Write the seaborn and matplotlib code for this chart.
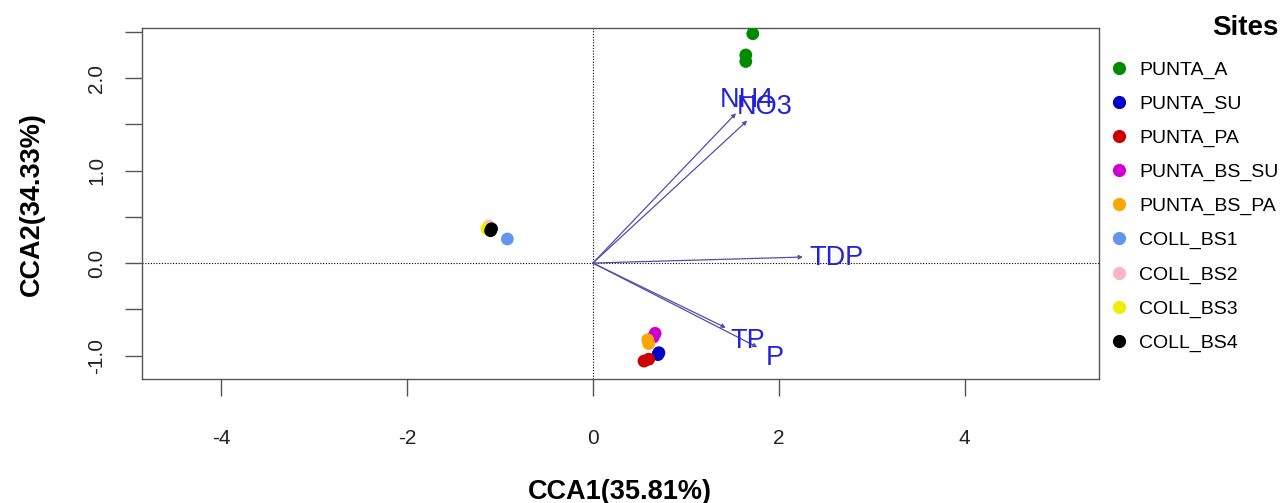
import matplotlib
matplotlib.use("Agg")
import matplotlib.pyplot as plt
from matplotlib.lines import Line2D
import seaborn as sns
import pandas as pd

# site scores (CCA1, CCA2), several replicates per site
site = ["PUNTA_A", "PUNTA_A", "PUNTA_A",
        "PUNTA_SU", "PUNTA_SU",
        "PUNTA_PA", "PUNTA_PA",
        "PUNTA_BS_SU", "PUNTA_BS_SU",
        "PUNTA_BS_PA", "PUNTA_BS_PA",
        "COLL_BS1",
        "COLL_BS2",
        "COLL_BS3",
        "COLL_BS4", "COLL_BS4"]
cca1 = [1.72, 1.645, 1.645,
        0.71, 0.70,
        0.55, 0.60,
        0.67, 0.65,
        0.59, 0.60,
        -0.92,
        -1.12,
        -1.14,
        -1.09, -1.10]
cca2 = [2.48, 2.25, 2.18,
        -0.97, -0.99,
        -1.06, -1.04,
        -0.76, -0.80,
        -0.83, -0.87,
        0.26,
        0.40,
        0.37,
        0.37, 0.35]

site_levels = ["PUNTA_A", "PUNTA_SU", "PUNTA_PA", "PUNTA_BS_SU", "PUNTA_BS_PA",
               "COLL_BS1", "COLL_BS2", "COLL_BS3", "COLL_BS4"]
site_colors = ["#008B00", "#0000C8", "#CD0000", "#CD00CD", "#FFA500",
               "#6495ED", "#FFB6C1", "#EEEE00", "#000000"]

# environmental biplot arrows
env_vars = ["NH4", "NO3", "TDP", "TP", "P"]
env_x = [1.54, 1.66, 2.26, 1.43, 1.77]
env_y = [1.62, 1.54, 0.065, -0.70, -0.91]

# label nudges (layout only)
lab_dx = [0.12, 0.19, 0.36, 0.24, 0.19]
lab_dy = [0.14, 0.15, -0.015, -0.14, -0.12]

df = pd.DataFrame({"site": site, "CCA1": cca1, "CCA2": cca2})

plt.rcParams["font.family"] = ["Liberation Sans", "DejaVu Sans"]
plt.rcParams["axes.unicode_minus"] = False

fig = plt.figure(figsize=(12.84, 5.03), dpi=100)
ax = fig.add_axes([0.1106, 0.2465, 0.745, 0.6975])

ax.axhline(0, color="black", lw=0.8, ls=(0, (1, 1.5)), zorder=1)
ax.axvline(0, color="black", lw=0.8, ls=(0, (1, 1.5)), zorder=1)

sns.scatterplot(data=df, x="CCA1", y="CCA2", hue="site", hue_order=site_levels,
                palette=site_colors, s=85, edgecolor="none", legend=False,
                ax=ax, zorder=3)

for name, x, y, dx, dy in zip(env_vars, env_x, env_y, lab_dx, lab_dy):
    ax.annotate("", xy=(x, y), xytext=(0, 0),
                arrowprops=dict(arrowstyle="-|>", color="#5050A8", lw=0.9,
                                mutation_scale=6, shrinkA=0, shrinkB=0),
                zorder=2)
    ax.text(x + dx, y + dy, name, color="#2222DD", fontsize=19.5,
            ha="center", va="center", zorder=4)

ax.set_xlim(-4.85, 5.44)
ax.set_ylim(-1.254, 2.54)
ax.set_xticks([-4, -2, 0, 2, 4])
ax.set_yticks([-1.0, -0.5, 0.0, 0.5, 1.0, 1.5, 2.0, 2.5])
ax.set_yticklabels(["-1.0", "", "0.0", "", "1.0", "", "2.0", ""],
                   rotation=90, va="center")
ax.tick_params(axis="both", length=12, width=1, color="#555555",
               labelsize=15, labelcolor="#222222")
ax.tick_params(axis="x", pad=24)
ax.tick_params(axis="y", pad=14)
for sp in ax.spines.values():
    sp.set_color("#555555")
    sp.set_linewidth(1)

ax.set_xlabel("CCA1(35.81%)", fontsize=19.5, fontweight="bold", labelpad=22)
ax.set_ylabel("CCA2(34.33%)", fontsize=19.5, fontweight="bold", labelpad=30)

handles = [Line2D([0], [0], marker="o", ls="none", color=c, markersize=9.5,
                  markeredgewidth=0) for c in site_colors]
leg = ax.legend(handles, site_levels, title="Sites", frameon=False,
                loc="upper left", bbox_to_anchor=(0.997, 1.075),
                fontsize=14, labelspacing=0.84, handletextpad=0.55,
                handlelength=1.0, borderaxespad=0.3,
                title_fontproperties={"weight": "bold", "size": 20})
leg._legend_box.align = "right"
leg._legend_box.sep = 14

fig.savefig("out.png", dpi=100)
